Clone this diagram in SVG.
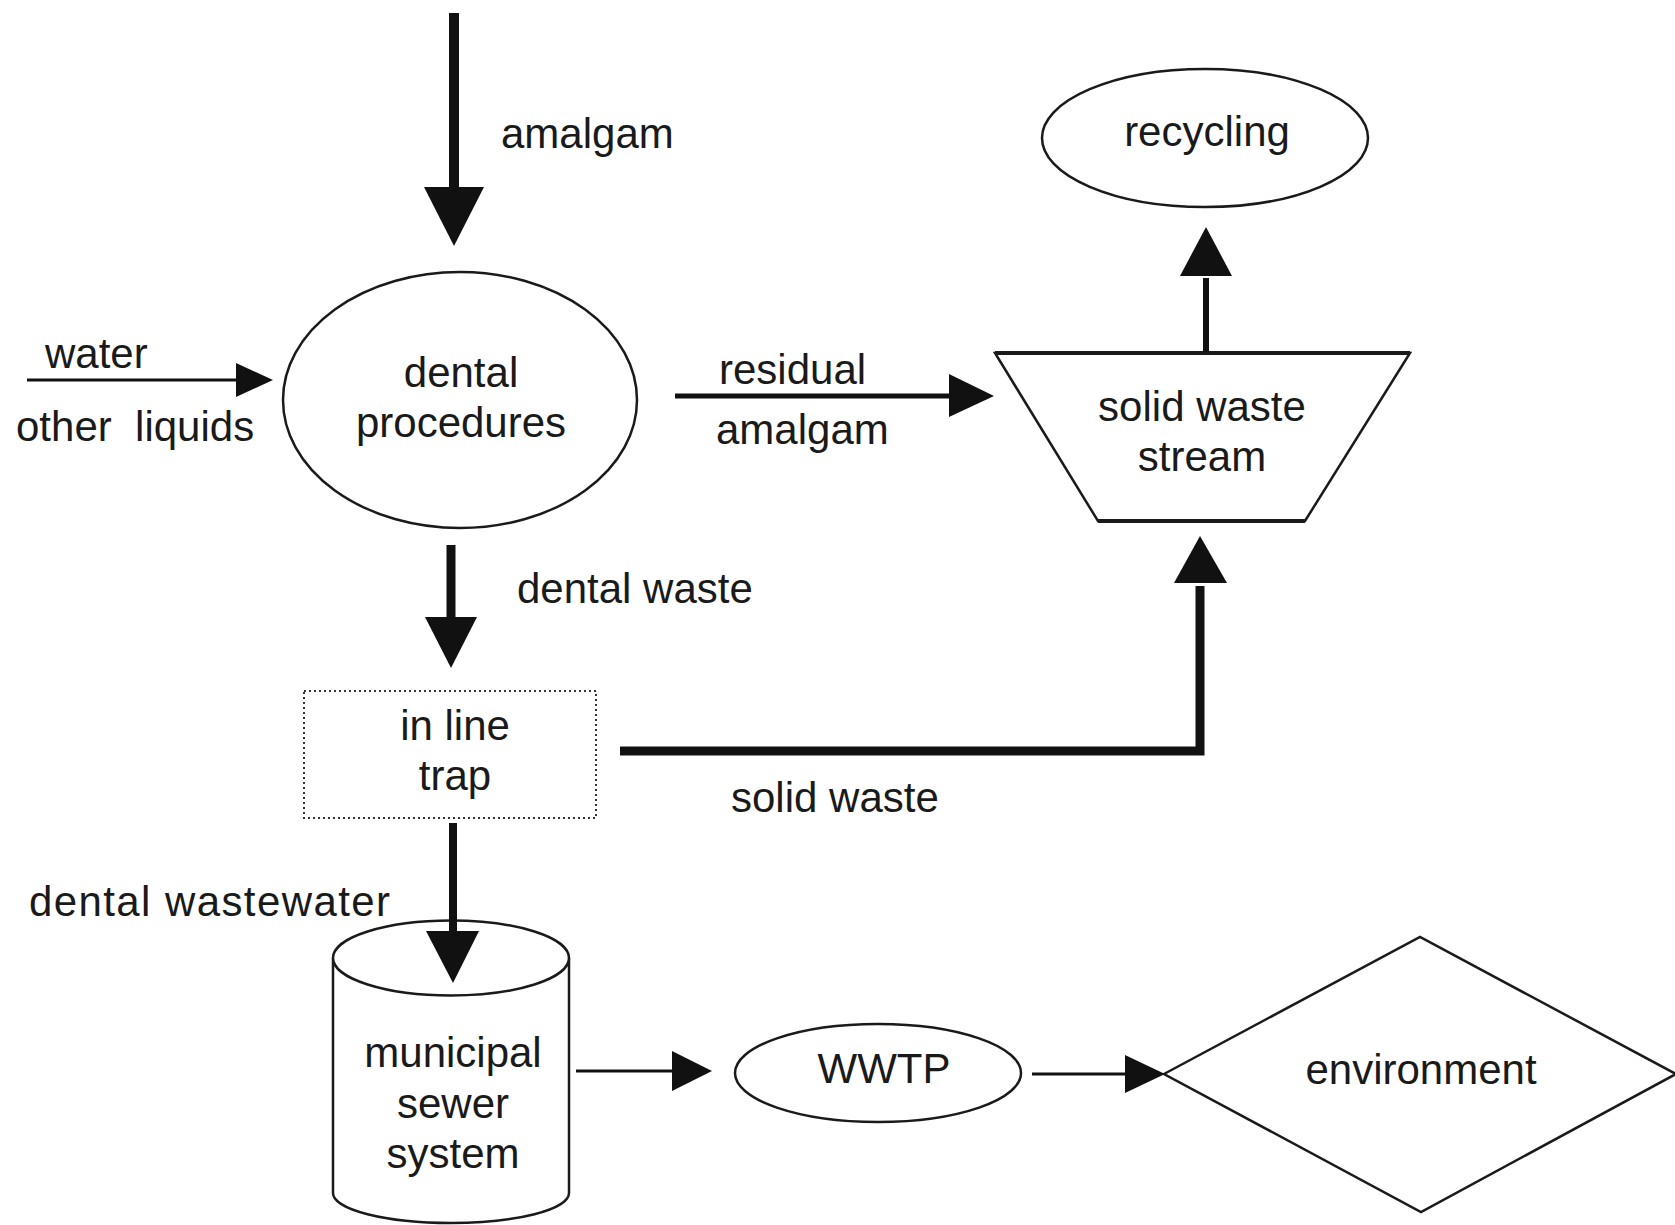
<svg xmlns="http://www.w3.org/2000/svg" width="1675" height="1225" viewBox="0 0 1675 1225">
<style>
text { font-family: "Liberation Sans", Arial, sans-serif; font-size: 42px; fill: #1a1a1a; }
.c { text-anchor: middle; }
.shape { fill: #ffffff; stroke: #1a1a1a; stroke-width: 2.5; }
.ln { stroke: #111; fill: none; }
.hd { fill: #111; stroke: none; }
</style>
<rect x="0" y="0" width="1675" height="1225" fill="#ffffff"/>

<g id="label-amalgam"><text x="501" y="148">amalgam</text></g>
<g id="label-water"><text x="45" y="368">water</text><text x="16" y="441" xml:space="preserve">other  liquids</text></g>
<g id="label-residual"><text x="719" y="384">residual</text><text x="716" y="444">amalgam</text></g>
<g id="label-dental-waste"><text x="517" y="603">dental waste</text></g>
<g id="label-solid-waste"><text x="731" y="812">solid waste</text></g>
<g id="label-wastewater"><text x="29" y="916" textLength="361" lengthAdjust="spacing">dental wastewater</text></g>

<g id="node-dental-procedures">
  <ellipse class="shape" cx="460" cy="400" rx="177" ry="128"/>
  <text class="c" x="461" y="387">dental</text>
  <text class="c" x="461" y="437">procedures</text>
</g>

<g id="node-recycling">
  <ellipse class="shape" cx="1205" cy="138" rx="163" ry="69"/>
  <text class="c" x="1207" y="146">recycling</text>
</g>

<g id="node-solid-waste-stream">
  <polygon class="shape" points="995,353 1410,353 1305,521 1098,521"/>
  <line x1="995" y1="353" x2="1410" y2="353" stroke="#1a1a1a" stroke-width="4"/>
  <line x1="1098" y1="521" x2="1305" y2="521" stroke="#1a1a1a" stroke-width="4"/>
  <text class="c" x="1202" y="421">solid waste</text>
  <text class="c" x="1202" y="471">stream</text>
</g>

<g id="node-in-line-trap">
  <rect x="304" y="691" width="292" height="127" fill="#ffffff" stroke="#333" stroke-width="2" stroke-dasharray="2 3"/>
  <text class="c" x="455" y="740">in line</text>
  <text class="c" x="455" y="790">trap</text>
</g>

<g id="node-municipal-sewer">
  <path class="shape" d="M333,958 L333,1193 A118,30 0 0 0 569,1193 L569,958"/>
  <ellipse class="shape" cx="451" cy="958" rx="118" ry="37.5"/>
  <text class="c" x="453" y="1067">municipal</text>
  <text class="c" x="453" y="1118">sewer</text>
  <text class="c" x="453" y="1168">system</text>
</g>

<g id="node-wwtp">
  <ellipse class="shape" cx="878" cy="1073" rx="143" ry="49"/>
  <text class="c" x="884" y="1083">WWTP</text>
</g>

<g id="node-environment">
  <polygon class="shape" points="1164,1074 1420,937 1676,1074 1421,1212"/>
  <text class="c" x="1421" y="1084">environment</text>
</g>

<g id="connectors">
  <line class="ln" x1="454" y1="13" x2="454" y2="190" stroke-width="10"/>
  <polygon class="hd" points="424,187 484,187 454,246"/>

  <line class="ln" x1="27" y1="380" x2="240" y2="380" stroke-width="3"/>
  <polygon class="hd" points="236,363 236,397 273,380"/>

  <line class="ln" x1="675" y1="396" x2="952" y2="396" stroke-width="5"/>
  <polygon class="hd" points="949,374 949,417 994,396"/>

  <line class="ln" x1="1206" y1="352" x2="1206" y2="278" stroke-width="6"/>
  <polygon class="hd" points="1180,276 1232,276 1206,227"/>

  <line class="ln" x1="451" y1="545" x2="451" y2="620" stroke-width="9"/>
  <polygon class="hd" points="425,617 477,617 451,668"/>

  <polyline class="ln" points="620,751 1200,751 1200,586" stroke-width="9"/>
  <polygon class="hd" points="1174,583 1227,583 1200,536"/>

  <line class="ln" x1="453" y1="823" x2="453" y2="934" stroke-width="8"/>
  <polygon class="hd" points="426,931 479,931 453,983"/>

  <line class="ln" x1="576" y1="1071" x2="675" y2="1071" stroke-width="3"/>
  <polygon class="hd" points="672,1051 672,1091 712,1071"/>

  <line class="ln" x1="1032" y1="1074" x2="1128" y2="1074" stroke-width="3"/>
  <polygon class="hd" points="1125,1055 1125,1093 1165,1074"/>
</g>
</svg>
